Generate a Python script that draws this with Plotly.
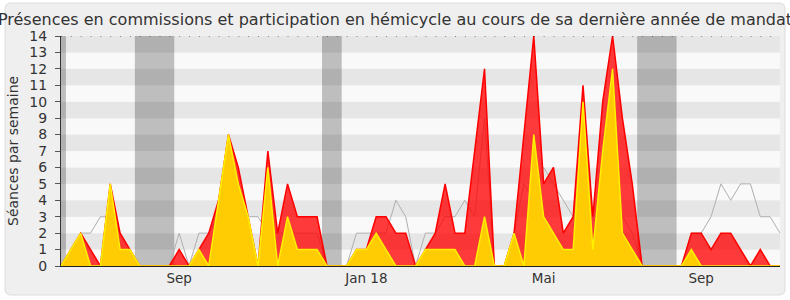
import plotly.graph_objects as go

# ---- data (one point per week) ----
weeks = list(range(74))

presences_total = [0, 1, 2, 1, 0, 5, 2, 1, 0, 0,
                   0, 0, 1, 0, 1, 2, 4, 8, 6, 3,
                   0, 7, 2, 5, 3, 3, 3, 0, 0, 0,
                   1, 1, 3, 3, 2, 2, 0, 1, 2, 5,
                   2, 2, 7, 12, 0, 0, 2, 8, 14, 5,
                   6, 2, 3, 11, 3, 10, 14, 9, 5, 0,
                   0, 0, 0, 0, 2, 2, 1, 2, 2, 1,
                   0, 1, 0, 0]

participation_hemicycle = [0, 1, 2, 0, 0, 5, 1, 1, 0, 0,
                           0, 0, 0, 0, 1, 0, 4, 8, 5, 3,
                           0, 6, 0, 3, 1, 1, 1, 0, 0, 0,
                           1, 1, 2, 1, 0, 0, 0, 1, 1, 1,
                           1, 0, 0, 3, 0, 0, 2, 0, 8, 3,
                           2, 1, 1, 10, 1, 7, 12, 2, 1, 0,
                           0, 0, 0, 0, 1, 0, 0, 0, 0, 0,
                           0, 0, 0, 0]

mediane_deputes = [0, 1, 2, 2, 3, 3, 2, 1, 0, 0,
                   0, 0, 2, 0, 2, 2, 3, 3, 4, 3,
                   3, 2, 2, 2, 2, 2, 2, 0, 0, 0,
                   2, 2, 2, 2, 4, 3, 0, 2, 2, 3,
                   3, 4, 3, 9, 0, 0, 2, 5, 4, 6,
                   5, 4, 3, 2, 2, 4, 5, 3, 2, 0,
                   0, 0, 0, 0, 2, 2, 3, 5, 4, 5,
                   5, 3, 3, 2]

vacances = [(-0.5, 0.5), (7.5, 11.5), (26.5, 28.5), (58.5, 62.5)]

tick_weeks = [12, 31, 49, 65]
tick_labels = ["Sep", "Jan 18", "Mai", "Sep"]

title_text = "Présences en commissions et participation en hémicycle au cours de sa dernière année de mandat"
y_title = "Séances par semaine"

# ---- figure ----
W, H = 790, 300
ML, MR, MT, MB = 61, 10, 36, 34
FONT = "DejaVu Sans"
TXT = "#333333"
x_min, x_max = 0, len(weeks) - 1
y_max = 14

fig = go.Figure()

fig.add_trace(go.Scatter(x=weeks, y=mediane_deputes, mode="lines",
                         line=dict(color="rgb(175,175,175)", width=1),
                         hoverinfo="skip", showlegend=False))
fig.add_trace(go.Scatter(x=weeks, y=presences_total, mode="lines", fill="tozeroy",
                         fillcolor="rgba(255,0,0,0.77)",
                         line=dict(color="rgb(255,0,0)", width=1.5),
                         hoverinfo="skip", showlegend=False))
fig.add_trace(go.Scatter(x=weeks, y=participation_hemicycle, mode="lines", fill="tozeroy",
                         fillcolor="rgba(255,212,0,0.94)",
                         line=dict(color="rgb(255,240,0)", width=1.5),
                         hoverinfo="skip", showlegend=False))

pw, ph = W - ML - MR, H - MT - MB


def px(x):
    return (x - ML) / pw


def py(y):
    return (H - MB - y) / ph


# rounded frame behind the whole chart
x0, y0, x1, y1, r = 5, 3, 785, 295, 6
path = (f"M {px(x0 + r)} {py(y0)} L {px(x1 - r)} {py(y0)} "
        f"Q {px(x1)} {py(y0)} {px(x1)} {py(y0 + r)} L {px(x1)} {py(y1 - r)} "
        f"Q {px(x1)} {py(y1)} {px(x1 - r)} {py(y1)} L {px(x0 + r)} {py(y1)} "
        f"Q {px(x0)} {py(y1)} {px(x0)} {py(y1 - r)} L {px(x0)} {py(y0 + r)} "
        f"Q {px(x0)} {py(y0)} {px(x0 + r)} {py(y0)} Z")
shapes = [dict(type="path", path=path, xref="paper", yref="paper", layer="below",
               fillcolor="#efefef", line=dict(color="#dcdcdc", width=1))]

# horizontal stripes
for k in range(y_max):
    shapes.append(dict(type="rect", xref="paper", yref="y", x0=0, x1=1, y0=k, y1=k + 1,
                       layer="below", line=dict(width=0),
                       fillcolor="#e6e6e6" if k % 2 == 1 else "#f9f9f9"))

# vacation bands
for a, b in vacances:
    shapes.append(dict(type="rect", xref="x", yref="y", x0=max(a, x_min), x1=min(b, x_max),
                       y0=0, y1=y_max, layer="below", line=dict(width=0),
                       fillcolor="rgba(0,0,0,0.235)"))

# dotted top line (one dot per week)
shapes.append(dict(type="line", xref="x", yref="y", x0=x_min, x1=x_max, y0=y_max, y1=y_max,
                   layer="above", line=dict(color="#222222", width=1, dash="1px,8.85px")))

fig.update_layout(
    width=W, height=H,
    margin=dict(l=ML, r=MR, t=MT, b=MB, pad=0),
    paper_bgcolor="white", plot_bgcolor="rgba(0,0,0,0)",
    font=dict(family=FONT, size=13.5, color=TXT),
    title=dict(text=title_text, x=0.5, xref="container", xanchor="center",
               y=1 - 19 / H, yref="container", yanchor="middle",
               font=dict(family=FONT, size=16, color=TXT)),
    shapes=shapes,
    annotations=[dict(text=y_title, textangle=-90, xref="paper", yref="paper",
                      x=px(13), y=0.5, xanchor="center", yanchor="middle",
                      showarrow=False, font=dict(family=FONT, size=14, color=TXT))],
    xaxis=dict(range=[x_min, x_max], showgrid=False, zeroline=False,
               showline=True, linecolor="#222222", linewidth=1,
               tickmode="array", tickvals=tick_weeks, ticktext=tick_labels,
               ticks="", tickfont=dict(family=FONT, size=13.5, color=TXT),
               fixedrange=True),
    yaxis=dict(range=[0, y_max], dtick=1, tick0=0, showgrid=False, zeroline=False,
               showline=True, linecolor="#333333", linewidth=1,
               ticks="outside", ticklen=5, tickcolor="#555555", tickwidth=1,
               ticklabelstandoff=5,
               tickfont=dict(family=FONT, size=14, color=TXT),
               fixedrange=True),
)

fig.write_html("out.html")
